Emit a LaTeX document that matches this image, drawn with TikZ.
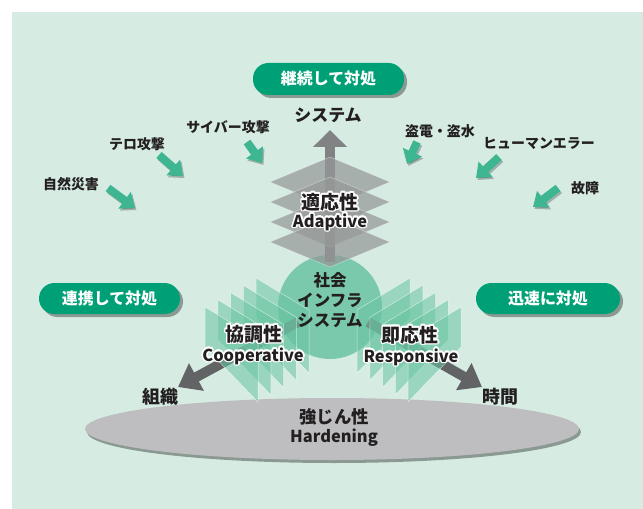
\documentclass[tikz,border=0pt]{standalone}
\usepackage{fontspec}
\setmainfont{Noto Sans CJK JP}
\usetikzlibrary{arrows.meta,shapes.geometric,shadows}

\definecolor{bgmint}{RGB}{214,236,227}
\definecolor{pillgreen}{RGB}{0,160,118}
\definecolor{tealarr}{RGB}{62,182,145}
\definecolor{coregreen}{RGB}{122,201,172}
\definecolor{panelgreen}{RGB}{105,196,162}
\definecolor{diamgray}{RGB}{150,152,152}
\definecolor{basegray}{RGB}{190,190,193}
\definecolor{arrgray}{RGB}{98,99,101}
\definecolor{inkdark}{RGB}{35,31,32}

% text with a white outline
\newcommand\halonode[4]{%
  \foreach \ang in {0,30,...,330}{%
    \node[font=#3,text=white] at ([shift={(\ang:1.6)}]#2) {#4};}
  \node[font=#3,text=inkdark] (#1) at (#2) {#4};}

\begin{document}
\begin{tikzpicture}[x=1bp,y=-1bp,
  pill/.style={rectangle,rounded corners=15.5bp,fill=pillgreen,text=white,
    font=\bfseries\fontsize{16}{18}\selectfont,inner sep=0pt,
    drop shadow={shadow xshift=3bp,shadow yshift=-3bp,opacity=.35,fill=black}},
  threat/.style={font=\bfseries\fontsize{14}{16}\selectfont,text=inkdark,inner sep=0pt},
  axislbl/.style={font=\bfseries\fontsize{18}{20}\selectfont,text=inkdark,inner sep=0pt},
  hitarrow/.style={line width=8bp,tealarr,-{Triangle[length=13bp,width=20bp]}},
  hitshadow/.style={line width=8bp,black,opacity=.25,-{Triangle[length=13bp,width=20bp]}},
  grayarrow/.style={line width=10bp,arrgray,-{Triangle[length=21bp,width=30bp]}},
  sheet/.style={fill=panelgreen,fill opacity=.55,draw=white,draw opacity=.6,line width=.5bp},
  layer/.style={fill=diamgray,fill opacity=.72,draw=white,draw opacity=.45,line width=.5bp}]

\useasboundingbox (0,0) rectangle (643,509);
\fill[white] (0,0) rectangle (643,509);
\fill[bgmint] (12,12) rectangle (643,509);

% base ellipse
\fill[black,opacity=.35] (334,432) ellipse [x radius=247,y radius=31];
\node[ellipse,fill=basegray,minimum width=494bp,minimum height=62bp,inner sep=0pt] (base) at (332,429) {};

% core circle
\node[circle,fill=coregreen,minimum size=104bp,inner sep=0pt] (core) at (330,307) {};

% upward arrow
\coordinate (upfrom) at (330,262);
\coordinate (upto) at (330,130);
\draw[line width=10bp,arrgray!80,-{Triangle[length=17bp,width=33bp]}] (upfrom) -- (upto);

% stacked layers
\foreach \yc in {182,202,222,242}{
  \path[layer] (270,\yc) -- (330,\yc-25) -- (390,\yc) -- (330,\yc+25) -- cycle;}

% arrows down to the sides
\coordinate (lfrom) at (298,322);
\coordinate (lto) at (178,387);
\coordinate (rfrom) at (368,322);
\coordinate (rto) at (482,387);
\draw[grayarrow] (lfrom) -- (lto);
\draw[grayarrow] (rfrom) -- (rto);

% left sheets
\foreach \k in {0,...,4}{
  \pgfmathsetmacro\xo{256-12.75*\k}
  \pgfmathsetmacro\yo{278+7.25*\k}
  \path[sheet] (\xo,\yo) -- (\xo+53,\yo+32) -- (\xo+53,\yo+95) -- (\xo,\yo+40) -- cycle;}
% right sheets
\foreach \k in {0,...,4}{
  \pgfmathsetmacro\xo{410+12.75*\k}
  \pgfmathsetmacro\yo{278+7.25*\k}
  \path[sheet] (\xo,\yo) -- (\xo-53,\yo+32) -- (\xo-53,\yo+95) -- (\xo,\yo+40) -- cycle;}

% pills
\node[pill,minimum width=151bp,minimum height=32bp] (keep) at (328.5,79) {継続して対処};
\node[pill,minimum width=141bp,minimum height=31bp] (coop) at (109.5,298.5) {連携して対処};
\node[pill,minimum width=144bp,minimum height=31bp] (fast) at (548,298.5) {迅速に対処};

% threats
\node[threat] (n1) at (71,184) {自然災害};
\node[threat] (n2) at (137,144) {テロ攻撃};
\node[threat] (n3) at (228,127) {サイバー攻撃};
\node[threat] (n4) at (440,131) {盗電・盗水};
\node[threat] (n5) at (539,143) {ヒューマンエラー};
\node[threat] (n6) at (585,188) {故障};

\coordinate (a1) at (108,188); \coordinate (b1) at (135,208);
\coordinate (a2) at (159,155); \coordinate (b2) at (183,176);
\coordinate (a3) at (247,142); \coordinate (b3) at (262,163);
\coordinate (a4) at (417,142); \coordinate (b4) at (407,164);
\coordinate (a5) at (499,157); \coordinate (b5) at (476,178);
\coordinate (a6) at (558,188); \coordinate (b6) at (533,207);
\foreach \i in {1,...,6}{
  \draw[hitshadow,transform canvas={shift={(1.5bp,-2bp)}}] (a\i) -- (b\i);
  \draw[hitarrow] (a\i) -- (b\i);}

% axis labels
\node[font=\bfseries\fontsize{17}{19}\selectfont,text=inkdark,inner sep=0pt] (sysup) at (328,115) {システム};
\node[axislbl] (org) at (160,397) {組織};
\node[axislbl] (time) at (500,397) {時間};

% core text
\node[font=\bfseries\fontsize{16.5}{18}\selectfont,text=inkdark,align=center,inner sep=0pt] (coretxt) at (330,300)
  {社会\\[2bp]インフラ\\[2bp]システム};

% property labels
\halonode{adj}{330,202}{\bfseries\fontsize{19}{21}\selectfont}{適応性}
\halonode{adjE}{330,222}{\bfseries\fontsize{16.5}{19}\selectfont}{Adaptive}
\halonode{coo}{254,334}{\bfseries\fontsize{19}{21}\selectfont}{協調性}
\halonode{cooE}{253,356}{\bfseries\fontsize{16.5}{19}\selectfont}{Cooperative}
\halonode{res}{410,335}{\bfseries\fontsize{19}{21}\selectfont}{即応性}
\halonode{resE}{411,357}{\bfseries\fontsize{16.5}{19}\selectfont}{Responsive}

\node[font=\bfseries\fontsize{17.5}{19}\selectfont,text=inkdark,inner sep=0pt] (hard) at (334,417) {強じん性};
\node[font=\bfseries\fontsize{16.5}{19}\selectfont,text=inkdark,inner sep=0pt] (hardE) at (334,438) {Hardening};

\end{tikzpicture}
\end{document}
